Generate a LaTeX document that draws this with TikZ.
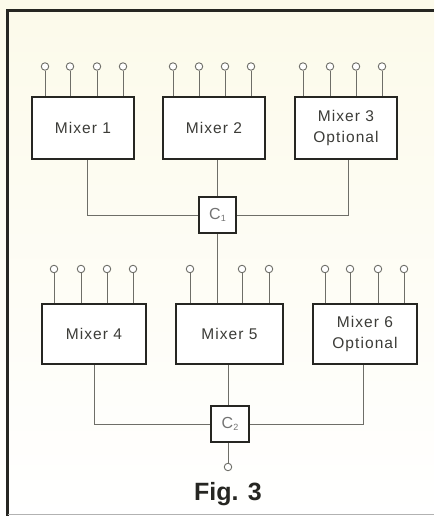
\documentclass[tikz,border=0pt]{standalone}
\usepackage{fontspec}
\setmainfont{Liberation Sans}
\newfontfamily\lblfont[LetterSpace=7]{Liberation Sans}
\usetikzlibrary{calc}
\definecolor{ink}{HTML}{262622}
\definecolor{wire}{HTML}{6E6E68}
\definecolor{paper}{HTML}{FCFAEA}
\begin{document}
\begin{tikzpicture}[x=1pt,y=-1pt,
  mixer/.style={draw=ink,line width=2.4pt,fill=white,inner sep=0pt,align=center,
    font=\lblfont\fontsize{15.5}{21}\selectfont,text=ink!90},
  cbox/.style={draw=ink,line width=2.6pt,fill=white,inner sep=0pt,minimum width=37pt,minimum height=36pt,
    font=\fontsize{16}{18}\selectfont,text=black!55},
  conn/.style={draw=wire,line width=0.9pt},
  pinc/.style={circle,draw=wire,line width=0.9pt,fill=white,minimum size=7.5pt,inner sep=0pt}]
\useasboundingbox (0,0) rectangle (434,516);
\shade[top color=paper,bottom color=white] (0,0) rectangle (434,516);
% frame
\draw[ink,line width=2.4pt] (7.5,516) -- (7.5,10.5) -- (434,10.5);
\draw[black!30,line width=0.8pt] (7.5,514) -- (434,514);
% mixers
\node[mixer,minimum width=102pt,minimum height=62pt] (m1) at (83,128) {Mixer 1};
\node[mixer,minimum width=102pt,minimum height=62pt] (m2) at (214,128) {Mixer 2};
\node[mixer,minimum width=102pt,minimum height=62pt] (m3) at (346,128) {Mixer 3\\Optional};
\node[mixer,minimum width=104pt,minimum height=60pt] (m4) at (94,334) {Mixer 4};
\node[mixer,minimum width=107pt,minimum height=60pt] (m5) at (229.5,334) {Mixer 5};
\node[mixer,minimum width=104pt,minimum height=60pt] (m6) at (365,334) {Mixer 6\\Optional};
% combiners
\node[cbox] (c1) at (217.5,215) {C\raisebox{-2pt}{\fontsize{9}{10}\selectfont 1}};
\node[cbox,minimum width=38pt] (c2) at (230,424) {C\raisebox{-2pt}{\fontsize{9}{10}\selectfont 2}};
% upper connections
\draw[conn] ($(m1.south)+(4,0)$) |- (c1.west);
\draw[conn] ($(m2.south)+(3.5,0)$) -- (c1.north);
\draw[conn] ($(m3.south)+(2,0)$) |- (c1.east);
\draw[conn] (c1.south) -- (c1.south |- m5.north);
% lower connections
\draw[conn] (m4.south) |- (c2.west);
\draw[conn] ($(m5.south)+(-1.5,0)$) -- ($(c2.north)+(-2,0)$);
\draw[conn] ($(m6.south)+(-2,0)$) |- (c2.east);
\node[pinc] (out) at (228,467) {};
\draw[conn] ($(c2.south)+(-2,0)$) -- (out.north);
% input pins
\foreach \x/\b in {45/m1,70/m1,97/m1,123/m1,173/m2,199/m2,225/m2,251/m2,303/m3,330/m3,356/m3,382/m3}{
  \node[pinc] (p) at (\x,66.5) {};
  \draw[conn] (p.south) -- (p.south |- \b.north);
}
\foreach \x/\b in {54/m4,81/m4,107/m4,133/m4,190/m5,242/m5,269/m5,325/m6,350/m6,378/m6,404/m6}{
  \node[pinc] (p) at (\x,269) {};
  \draw[conn] (p.south) -- (p.south |- \b.north);
}
% caption
\node[font=\bfseries\fontsize{25}{28}\selectfont,text=ink] (fig) at (228,494) {Fig. 3};
\end{tikzpicture}
\end{document}
